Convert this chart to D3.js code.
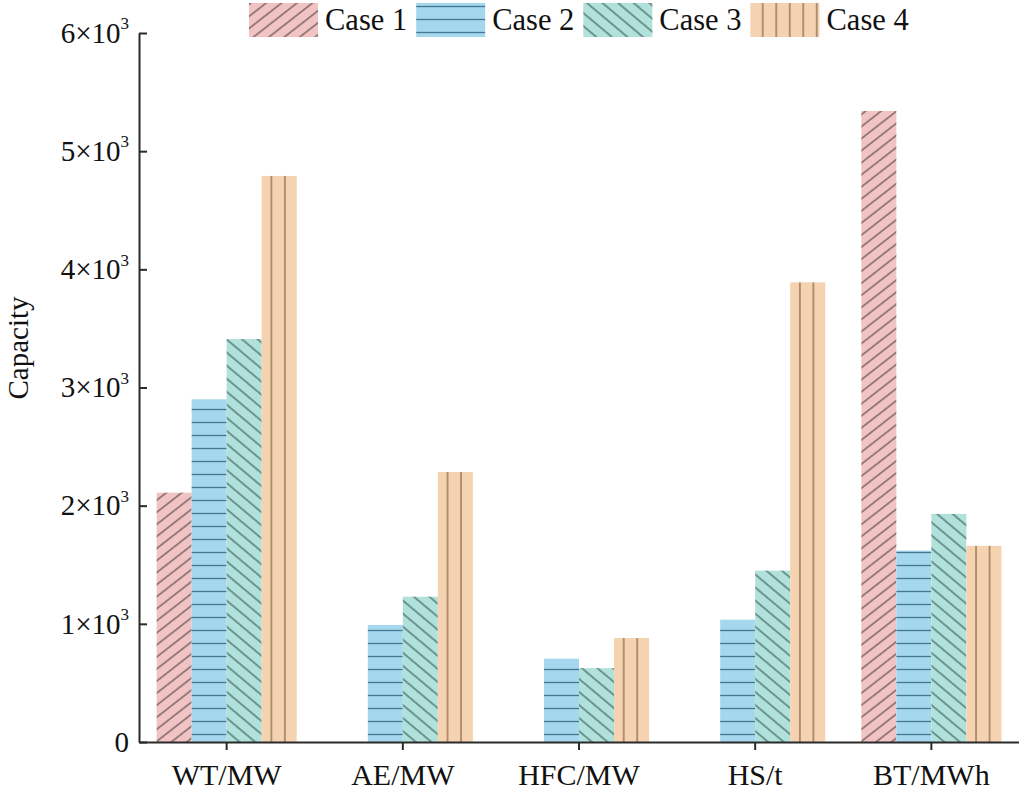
<!DOCTYPE html>
<html>
<head>
<meta charset="utf-8">
<script src="https://cdn.jsdelivr.net/npm/d3@7"></script>
<style>
  body { margin: 0; background: #fff; }
  svg { display: block; font-family: "Liberation Serif", "Times New Roman", serif; }
</style>
</head>
<body>
<main></main>
<script>
// Capacity by case, grouped bars with hatch patterns

// data
const categories = ["WT/MW", "AE/MW", "HFC/MW", "HS/t", "BT/MWh"];
const cases = ["Case 1", "Case 2", "Case 3", "Case 4"];
const case1 = [2110, 0, 0, 0, 5340];
const case2 = [2900, 990, 705, 1035, 1620];
const case3 = [3410, 1230, 625, 1450, 1930];
const case4 = [4790, 2285, 880, 3890, 1660];
const yTicks = [0, 1000, 2000, 3000, 4000, 5000, 6000];

const series = [case1, case2, case3, case4];

// look
const fills = ["#f2c3c3", "#a5d7ee", "#b1e1db", "#f5d3b0"];
const hatch = ["#6b5656", "#3f7a92", "#4a6a66", "#8a6e50"];
const serif = "Liberation Serif";

const w = 1019, h = 803;
const margin = {top: 33, right: 0, bottom: 61, left: 139};

const svg = d3.select("main").append("svg")
  .attr("width", w)
  .attr("height", h);

//patterns
const defs = svg.append("defs");
function makePattern(i, size, angle, vertical) {
  const p = defs.append("pattern")
    .attr("id", "pat" + i)
    .attr("patternUnits", "userSpaceOnUse")
    .attr("width", size)
    .attr("height", size);
  if (angle) p.attr("patternTransform", "rotate(" + angle + ")");
  p.append("rect").attr("width", size).attr("height", size).attr("fill", fills[i]);
  const l = p.append("line")
    .attr("stroke", hatch[i])
    .attr("stroke-width", 1.3);
  if (vertical) l.attr("x1", size / 2).attr("x2", size / 2).attr("y1", 0).attr("y2", size);
  else l.attr("x1", 0).attr("x2", size).attr("y1", size / 2).attr("y2", size / 2);
}
makePattern(0, 9.5, -38, false);
makePattern(1, 13, 0, false);
makePattern(2, 10, 40, false);
makePattern(3, 13.5, 0, true);

//scales
const x0 = d3.scaleBand()
  .domain(categories)
  .range([margin.left, w - margin.right])
  .paddingInner(0.205)
  .paddingOuter(0.1);

const x1 = d3.scaleBand()
  .domain(cases)
  .range([0, x0.bandwidth()]);

const y = d3.scaleLinear()
  .domain([0, 6000])
  .range([h - margin.bottom, margin.top]);

//bars
const groups = svg.append("g")
  .selectAll("g")
  .data(categories)
  .enter()
  .append("g")
  .attr("transform", d => "translate(" + x0(d) + ",0)");

groups.selectAll("rect")
  .data((d, ci) => cases.map((c, k) => ({c: c, k: k, v: series[k][ci]})))
  .enter()
  .append("rect")
  .attr("x", d => x1(d.c))
  .attr("width", x1.bandwidth())
  .attr("y", d => y(d.v))
  .attr("height", d => y(0) - y(d.v))
  .attr("fill", d => "url(#pat" + d.k + ")");

//y axis
const yAxis = svg.append("g")
  .attr("transform", "translate(" + margin.left + ",0)")
  .call(d3.axisLeft(y).tickValues(yTicks).tickSizeInner(-8).tickSizeOuter(0).tickPadding(10));

yAxis.attr("font-family", serif).attr("font-size", 29);
yAxis.selectAll(".tick text").each(function(d) {
  const t = d3.select(this).text(null).attr("fill", "#111");
  if (d === 0) { t.text("0"); return; }
  t.append("tspan").text((d / 1000) + "\u00d710");
  t.append("tspan").text("3").attr("font-size", 17).attr("dy", "-0.8em");
});

//x axis
const xAxis = svg.append("g")
  .attr("transform", "translate(0," + y(0) + ")")
  .call(d3.axisBottom(x0).tickSizeInner(8).tickSizeOuter(0).tickPadding(14));

xAxis.attr("font-family", serif).attr("font-size", 30);
xAxis.selectAll(".tick text").attr("fill", "#111");

svg.selectAll(".domain, .tick line")
  .attr("stroke", "#2a2a2a")
  .attr("stroke-width", 2);

//y label
svg.append("text")
  .attr("transform", "translate(28,348) rotate(-90)")
  .attr("text-anchor", "middle")
  .attr("font-size", 29)
  .attr("fill", "#111")
  .text("Capacity");

//legend
const legend = svg.append("g").attr("id", "legend");
let lx = 249;
cases.forEach((c, k) => {
  legend.append("rect")
    .attr("x", lx).attr("y", 3)
    .attr("width", 69).attr("height", 34)
    .attr("fill", "url(#pat" + k + ")");
  const t = legend.append("text")
    .attr("x", lx + 76).attr("y", 30)
    .attr("font-size", 30.5)
    .attr("fill", "#111")
    .text(c);
  lx += 76 + t.node().getComputedTextLength() + 9;
});
</script>
</body>
</html>
